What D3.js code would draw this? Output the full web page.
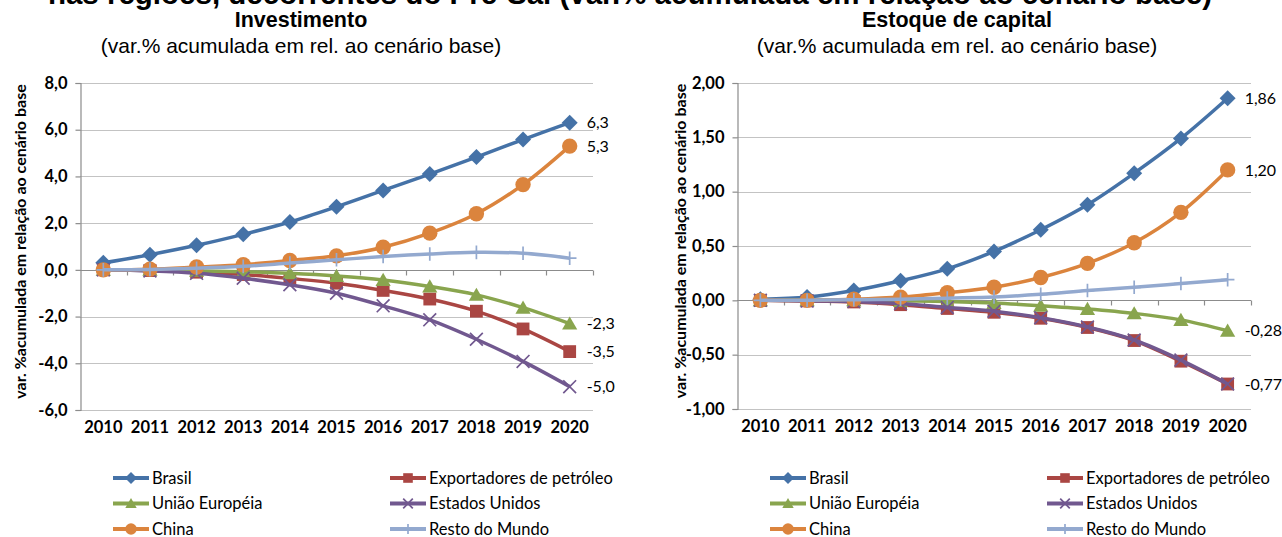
<!DOCTYPE html>
<html>
<head>
<meta charset="utf-8">
<script src="https://cdn.jsdelivr.net/npm/d3@7/dist/d3.min.js"></script>
<style>
  body { margin: 0; background: #fff; }
  svg { display: block; }
</style>
</head>
<body>
<svg id="chart" width="1282" height="537"></svg>
<script>
// Years on the horizontal axis
const years = ["2010","2011","2012","2013","2014","2015","2016","2017","2018","2019","2020"];

// Region names, in drawing order
const regions = ["Brasil","Exportadores de petróleo","União Européia","Estados Unidos","China","Resto do Mundo"];

// Investimento (var.% acumulada em rel. ao cenário base)
const invBrasil  = [0.30, 0.65, 1.05, 1.52, 2.05, 2.70, 3.40, 4.10, 4.83, 5.58, 6.3];
const invExport  = [0.00, -0.03, -0.10, -0.20, -0.37, -0.57, -0.88, -1.25, -1.77, -2.53, -3.5];
const invUE      = [0.00, 0.00, -0.04, -0.08, -0.15, -0.26, -0.43, -0.71, -1.07, -1.62, -2.3];
const invEUA     = [0.00, -0.05, -0.15, -0.36, -0.64, -1.00, -1.54, -2.14, -2.97, -3.92, -5.0];
const invChina   = [0.00, 0.03, 0.12, 0.22, 0.40, 0.60, 0.97, 1.57, 2.40, 3.65, 5.3];
const invResto   = [0.00, 0.02, 0.07, 0.15, 0.29, 0.43, 0.57, 0.68, 0.75, 0.71, 0.50];

// Estoque de capital (var.% acumulada em rel. ao cenário base)
const capBrasil  = [0.01, 0.03, 0.09, 0.18, 0.29, 0.45, 0.65, 0.88, 1.17, 1.49, 1.86];
const capExport  = [0.00, -0.005, -0.015, -0.04, -0.075, -0.11, -0.165, -0.25, -0.37, -0.56, -0.77];
const capUE      = [0.00, 0.00, 0.00, -0.005, -0.01, -0.025, -0.05, -0.08, -0.12, -0.18, -0.28];
const capEUA     = [0.00, -0.005, -0.01, -0.03, -0.065, -0.10, -0.16, -0.245, -0.365, -0.55, -0.77];
const capChina   = [0.00, 0.00, 0.01, 0.03, 0.07, 0.12, 0.21, 0.34, 0.53, 0.81, 1.20];
const capResto   = [0.00, 0.00, 0.005, 0.01, 0.02, 0.03, 0.055, 0.09, 0.12, 0.155, 0.19];

// Axis ticks
const invTicks = [-6, -4, -2, 0, 2, 4, 6, 8];
const capTicks = [-1, -0.5, 0, 0.5, 1, 1.5, 2];

const colors  = ["#4572A7", "#AA4643", "#89A54E", "#71588F", "#DB843D", "#93A9CF"];
const markers = ["diamond", "square", "triangle", "x", "circle", "plus"];

const svg = d3.select("#chart");
const FONT = "Lato, 'Open Sans', sans-serif";
const TFONT = "'Liberation Sans', Arial, sans-serif";

// Overall heading, partially above the page edge
svg.append("text")
  .attr("x", 630).attr("y", 4)
  .attr("text-anchor", "middle")
  .attr("font-family", TFONT).attr("font-weight", "bold").attr("font-size", 29.5)
  .text("nas regiões, decorrentes do Pré-Sal (var.% acumulada em relação ao cenário base)");

function markerPath(type, s) {
  const h = s / 2;
  switch (type) {
    case "diamond":  return `M0,${-h}L${h},0L0,${h}L${-h},0Z`;
    case "square":   return `M${-h*0.8},${-h*0.8}h${s*0.8}v${s*0.8}h${-s*0.8}Z`;
    case "triangle": return `M0,${-h*0.9}L${h*0.95},${h*0.75}L${-h*0.95},${h*0.75}Z`;
    case "x":        return `M${-h*0.8},${-h*0.8}L${h*0.8},${h*0.8}M${h*0.8},${-h*0.8}L${-h*0.8},${h*0.8}`;
    case "plus":     return `M${-h*0.85},0H${h*0.85}M0,${-h*0.85}V${h*0.85}`;
  }
  return "";
}

function drawMarker(g, type, color, x, y, s) {
  if (type === "circle") {
    g.append("circle").attr("cx", x).attr("cy", y).attr("r", s * 0.48).attr("fill", color);
  } else if (type === "x" || type === "plus") {
    g.append("path").attr("transform", `translate(${x},${y})`).attr("d", markerPath(type, s))
      .attr("fill", "none").attr("stroke", color).attr("stroke-width", 1.7);
  } else {
    g.append("path").attr("transform", `translate(${x},${y})`).attr("d", markerPath(type, s))
      .attr("fill", color);
  }
}

function panel(cfg) {
  const g = svg.append("g");
  const x = d3.scaleBand().domain(years).range([cfg.left, cfg.right]);
  const y = d3.scaleLinear().domain(cfg.domain).range([cfg.bottom, cfg.top]);
  const fmt = v => d3.format(cfg.fmt)(v).replace(".", ",").replace("−", "-");

  // Titles
  g.append("text").attr("x", cfg.titleX).attr("y", 27).attr("text-anchor", "middle")
    .attr("font-family", TFONT).attr("font-weight", "bold").attr("font-size", 21.5)
    .text(cfg.title);
  g.append("text").attr("x", cfg.titleX).attr("y", 53).attr("text-anchor", "middle")
    .attr("font-family", TFONT).attr("font-size", 21)
    .text("(var.% acumulada em rel. ao cenário base)");

  // Gridlines
  g.append("g").selectAll("line").data(cfg.ticks).join("line")
    .attr("x1", cfg.left).attr("x2", cfg.right)
    .attr("y1", d => Math.round(y(d)) + 0.5).attr("y2", d => Math.round(y(d)) + 0.5)
    .attr("stroke", "#c3c3c3").attr("stroke-width", 1.2);

  // Value axis
  const ya = g.append("g").attr("transform", `translate(${cfg.left + 0.5},0)`)
    .call(d3.axisLeft(y).tickValues(cfg.ticks).tickSize(5).tickPadding(8).tickFormat(fmt));
  ya.select(".domain").attr("stroke", "#8c8c8c").attr("stroke-width", 1.2);
  ya.selectAll(".tick line").attr("stroke", "#8c8c8c").attr("stroke-width", 1.2);
  ya.selectAll(".tick text").attr("font-family", FONT).attr("font-weight", "bold")
    .attr("font-size", 16.5).attr("fill", "#000");

  // Category axis crossing at zero
  const y0 = Math.round(y(0)) + 0.5;
  g.append("line").attr("x1", cfg.left).attr("x2", cfg.right).attr("y1", y0).attr("y2", y0)
    .attr("stroke", "#8c8c8c").attr("stroke-width", 1.2);
  const bounds = years.map(d => x(d)).concat([cfg.right]).slice(1);
  g.append("g").selectAll("line").data(bounds).join("line")
    .attr("x1", d => Math.round(d) + 0.5).attr("x2", d => Math.round(d) + 0.5)
    .attr("y1", y0).attr("y2", y0 + 5)
    .attr("stroke", "#8c8c8c").attr("stroke-width", 1.2);

  // Year labels below the plot
  g.append("g").selectAll("text").data(years).join("text")
    .attr("x", d => x(d) + x.bandwidth() / 2).attr("y", cfg.bottom + 23)
    .attr("text-anchor", "middle")
    .attr("font-family", FONT).attr("font-weight", "bold").attr("font-size", 16.5)
    .text(d => d);

  // Vertical axis title
  g.append("text")
    .attr("transform", `translate(${cfg.axisTitleX},${(cfg.top + cfg.bottom) / 2 - 5}) rotate(-90)`)
    .attr("text-anchor", "middle").attr("dy", "0.35em")
    .attr("font-family", FONT).attr("font-weight", "bold").attr("font-size", 16)
    .text("var. %acumulada em relação ao cenário base");

  // Series
  const line = d3.line()
    .x((d, i) => x(years[i]) + x.bandwidth() / 2)
    .y(d => y(d))
    .curve(d3.curveCatmullRom.alpha(0.5));

  cfg.series.forEach((vals, k) => {
    const sg = g.append("g");
    sg.append("path").datum(vals).attr("d", line)
      .attr("fill", "none").attr("stroke", colors[k]).attr("stroke-width", 3.5)
      .attr("stroke-linejoin", "round");
    vals.forEach((v, i) => {
      drawMarker(sg, markers[k], colors[k], x(years[i]) + x.bandwidth() / 2, y(v), 16);
    });
  });

  // End-of-series value labels
  cfg.labelled.forEach(k => {
    const vals = cfg.series[k];
    const v = vals[vals.length - 1];
    g.append("text")
      .attr("x", x(years[years.length - 1]) + x.bandwidth() / 2 + 17)
      .attr("y", y(v)).attr("dy", "0.35em")
      .attr("font-family", FONT).attr("font-size", 16).attr("fill", "#000")
      .text(fmt(v));
  });

  // Legend
  const rows = [[0, 1], [2, 3], [4, 5]];
  rows.forEach((pair, r) => {
    pair.forEach((k, c) => {
      const lx = cfg.legendX[c];
      const ly = 478 + r * 25.5;
      const lg = g.append("g");
      lg.append("line").attr("x1", lx).attr("x2", lx + 36).attr("y1", ly).attr("y2", ly)
        .attr("stroke", colors[k]).attr("stroke-width", 4);
      drawMarker(lg, markers[k], colors[k], lx + 18, ly, 12);
      lg.append("text").attr("x", lx + 39).attr("y", ly).attr("dy", "0.35em")
        .attr("font-family", FONT).attr("font-size", 16.5).attr("fill", "#000")
        .text(regions[k]);
    });
  });
}

panel({
  title: "Investimento", titleX: 301,
  left: 80, right: 593, top: 83, bottom: 410,
  domain: [-6, 8], ticks: invTicks, fmt: ".1f",
  axisTitleX: 20,
  series: [invBrasil, invExport, invUE, invEUA, invChina, invResto],
  labelled: [0, 1, 2, 3, 4],
  legendX: [113, 390]
});

panel({
  title: "Estoque de capital", titleX: 957,
  left: 737, right: 1251, top: 83, bottom: 409,
  domain: [-1, 2], ticks: capTicks, fmt: ".2f",
  axisTitleX: 680,
  series: [capBrasil, capExport, capUE, capEUA, capChina, capResto],
  labelled: [0, 2, 3, 4],
  legendX: [770, 1047]
});
</script>
</body>
</html>
